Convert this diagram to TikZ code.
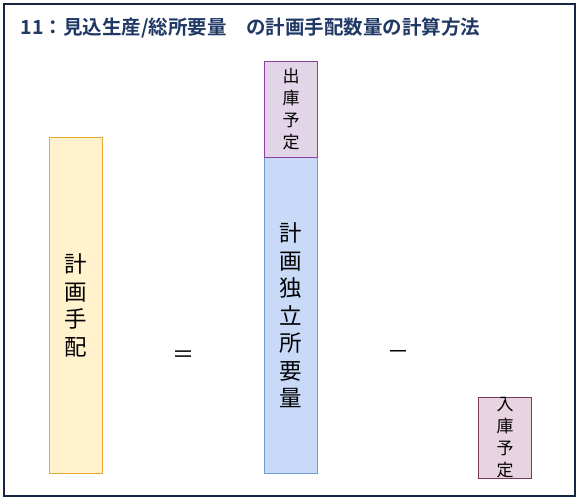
\documentclass[tikz,border=0pt]{standalone}
\usepackage{fontspec}
\setmainfont{Noto Sans CJK JP}
\newfontfamily\titlefont{Noto Sans CJK JP Bold}
\usetikzlibrary{positioning}
\definecolor{titleblue}{HTML}{203864}
\definecolor{planfill}{HTML}{FFF2CC}
\definecolor{plandraw}{HTML}{E8A830}
\definecolor{indepfill}{HTML}{C9DAF8}
\definecolor{indepdraw}{HTML}{6C9BD5}
\definecolor{outfill}{HTML}{E1D5E7}
\definecolor{outdraw}{HTML}{9040A0}
\definecolor{infill}{HTML}{E8D3E0}
\definecolor{indraw}{HTML}{7A3A5A}
\begin{document}
\begin{tikzpicture}[x=1pt,y=-1pt,
  bar/.style = {draw, line width=1pt, anchor=north west, inner sep=0pt, minimum width=53pt, align=center},
  big/.style = {bar, font=\fontsize{22.5}{27.5}\selectfont},
  small/.style = {bar, font=\fontsize{17}{22}\selectfont},
  sign/.style = {font=\fontsize{22}{22}\selectfont}]
      \useasboundingbox (0,0) rectangle (579,500);
      \draw[titleblue!70!black, line width=1.3pt] (4,4) rectangle (575,496);
      \node[anchor=west, text=titleblue, font=\titlefont\fontsize{19.5}{19.5}\selectfont](title) at (17,28){11：見込生産/総所要量\quad の計画手配数量の計算方法};

      \node[big, fill=planfill, draw=plandraw, minimum height=336pt](plan) at (49,137){計\\画\\手\\配};
      \node[big, fill=indepfill, draw=indepdraw, minimum height=316pt](indep) at (264,157){計\\画\\独\\立\\所\\要\\量};
      \node[small, fill=outfill, draw=outdraw, minimum height=96pt](out) at (264,61){出\\庫\\予\\定};
      \node[small, fill=infill, draw=indraw, minimum height=76pt](in) at (478,397){入\\庫\\予\\定};

      \node[sign](eq) at (183,357){＝};
      \node[sign](minus) at (398,355){－};

    \end{tikzpicture}
\end{document}
